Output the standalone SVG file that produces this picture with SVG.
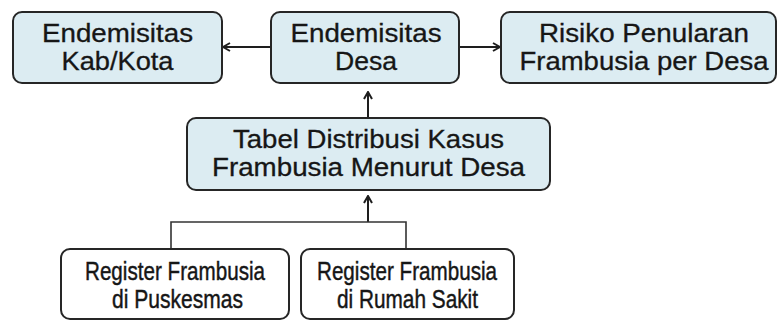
<svg xmlns="http://www.w3.org/2000/svg" width="777" height="321" viewBox="0 0 777 321">
  <style>
    .box { stroke: #262626; stroke-width: 2; }
    .blue { fill: #dcecf2; }
    .white { fill: #ffffff; }
    .t { font-family: "Liberation Sans", Arial, sans-serif; font-size: 25px; fill: #161616; stroke: #161616; stroke-width: 0.3; text-anchor: middle; }
    .b { font-size: 26.5px; stroke-width: 0.45; }
    .link { fill: none; stroke: #1e1e1e; stroke-width: 2; }
    .tree { fill: none; stroke: #333333; stroke-width: 1.6; }
  </style>
  <defs>
    <marker id="arrow" viewBox="0 0 10 10" refX="9" refY="5" markerWidth="10" markerHeight="10" markerUnits="userSpaceOnUse" orient="auto">
      <path d="M2,1 L9,5 L2,9" fill="none" stroke="#1e1e1e" stroke-width="2"/>
    </marker>
  </defs>
  <rect width="777" height="321" fill="#ffffff"/>

  <g id="connectors">
    <line class="link" x1="271" y1="47" x2="223" y2="47" marker-end="url(#arrow)"/>
    <line class="link" x1="459" y1="47" x2="500" y2="47" marker-end="url(#arrow)"/>
    <line class="link" x1="368" y1="117" x2="368" y2="92" marker-end="url(#arrow)"/>
    <line class="link" x1="368" y1="222" x2="368" y2="196" marker-end="url(#arrow)"/>
    <path class="tree" d="M171,249 V222 H406 V249"/>
  </g>

  <g id="endemisitas-kabkota">
    <rect class="box blue" x="13" y="12" width="209" height="71" rx="9"/>
    <text class="t" x="117.5" y="41.5" textLength="151" lengthAdjust="spacingAndGlyphs">Endemisitas</text>
    <text class="t" x="117.5" y="70" textLength="112" lengthAdjust="spacingAndGlyphs">Kab/Kota</text>
  </g>

  <g id="endemisitas-desa">
    <rect class="box blue" x="271" y="12" width="188" height="71" rx="9"/>
    <text class="t" x="366" y="41.5" textLength="151" lengthAdjust="spacingAndGlyphs">Endemisitas</text>
    <text class="t" x="366" y="70" textLength="62" lengthAdjust="spacingAndGlyphs">Desa</text>
  </g>

  <g id="risiko-penularan">
    <rect class="box blue" x="501" y="12" width="275" height="71" rx="9"/>
    <text class="t" x="644" y="41.5" textLength="210" lengthAdjust="spacingAndGlyphs">Risiko Penularan</text>
    <text class="t" x="644" y="70" textLength="249" lengthAdjust="spacingAndGlyphs">Frambusia per Desa</text>
  </g>

  <g id="tabel-distribusi">
    <rect class="box blue" x="187" y="118" width="363" height="72" rx="9"/>
    <text class="t" x="368.5" y="147.5" textLength="271" lengthAdjust="spacingAndGlyphs">Tabel Distribusi Kasus</text>
    <text class="t" x="368.5" y="175.5" textLength="313" lengthAdjust="spacingAndGlyphs">Frambusia Menurut Desa</text>
  </g>

  <g id="register-puskesmas">
    <rect class="box white" x="61" y="249" width="228" height="70" rx="9"/>
    <text class="t b" x="175" y="280" textLength="180" lengthAdjust="spacingAndGlyphs">Register Frambusia</text>
    <text class="t b" x="177.5" y="307.5" textLength="131" lengthAdjust="spacingAndGlyphs">di Puskesmas</text>
  </g>

  <g id="register-rumah-sakit">
    <rect class="box white" x="301" y="249" width="213" height="70" rx="9"/>
    <text class="t b" x="407" y="280" textLength="180" lengthAdjust="spacingAndGlyphs">Register Frambusia</text>
    <text class="t b" x="407.5" y="307.5" textLength="141" lengthAdjust="spacingAndGlyphs">di Rumah Sakit</text>
  </g>
</svg>
